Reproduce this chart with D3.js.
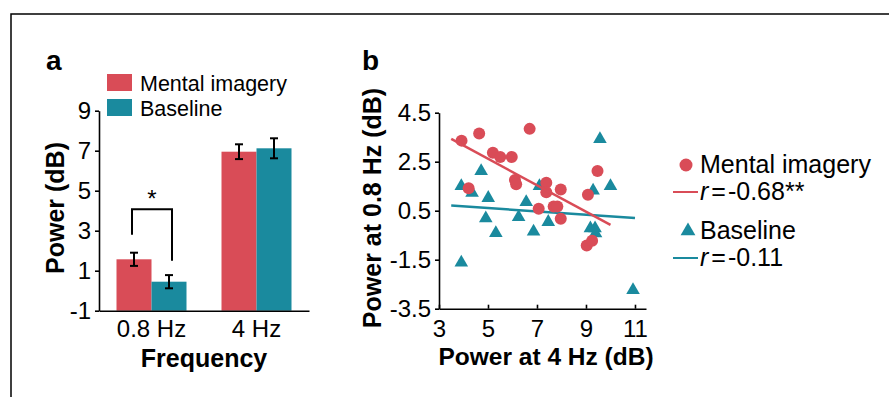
<!DOCTYPE html>
<html>
<head>
<meta charset="utf-8">
<script src="https://cdn.jsdelivr.net/npm/d3@7"></script>
<style>
  body { margin: 0; background: #fff; }
  svg { display: block; font-family: "Liberation Sans", Arial, sans-serif; }
  .axis path, .axis line { stroke: #000; stroke-width: 1.6; }
  .axis text { font-size: 24px; fill: #000; }
</style>
</head>
<body>
<div id="container"></div>
<script>
// panel a: bar chart
const freqs = ["0.8 Hz", "4 Hz"];
const conditions = ["Mental imagery", "Baseline"];
const imageryPower = [1.57, 6.95];
const imageryErr = [0.33, 0.37];
const baselinePower = [0.45, 7.12];
const baselineErr = [0.33, 0.5];
const powerTicks = [-1, 1, 3, 5, 7, 9];
const sigBracket = [2.8, 4.07, 1.5]; // left leg end, top, right leg end

// panel b: scatter
const imageryX = [3.92, 4.64, 4.21, 5.2, 5.5, 5.97, 6.1, 6.15, 6.7, 7.07, 7.38, 7.38, 7.68, 7.83, 7.97, 7.97, 9.08, 9.03, 9.25, 9.47];
const imageryY = [3.36, 3.65, 1.42, 2.87, 2.69, 2.69, 1.75, 1.58, 3.84, 0.58, 1.64, 1.25, 0.67, 0.67, 1.37, 0.17, 1.15, -0.92, -0.73, 2.12];
const baselineX = [3.91, 3.91, 4.35, 4.72, 5.01, 4.91, 5.32, 6.25, 6.56, 6.86, 7.1, 7.46, 9.29, 9.18, 9.37, 9.39, 9.57, 10.0, 10.92];
const baselineY = [1.5, -1.62, 1.23, 2.12, 1.02, 0.19, -0.41, 0.24, 0.85, -0.35, 1.5, 0.04, 1.32, -0.22, -0.22, -0.42, 3.42, 1.5, -2.74];
const fitImageryX = [3.5, 10.0];
const fitImageryY = [3.43, -0.08];
const fitBaselineX = [3.5, 11.0];
const fitBaselineY = [0.71, 0.2];
const corrLabels = ["-0.68**", "-0.11"];
const scatterXTicks = [3, 5, 7, 9, 11];
const scatterYTicks = [-3.5, -1.5, 0.5, 2.5, 4.5];

const red = "#d94c57";
const teal = "#1a8a9e";
const colors = [red, teal];

// plain hyphen instead of d3's unicode minus
const hy = f => d => f(d).replace("\u2212", "-");

const svg = d3.select("#container").append("svg")
  .attr("width", 889).attr("height", 397);

// frame
svg.append("rect")
  .attr("x", 11).attr("y", 14).attr("width", 900).attr("height", 400)
  .attr("fill", "none").attr("stroke", "#000").attr("stroke-width", 1.5);

// ---------- panel a ----------
const yA = d3.scaleLinear().domain([-1, 9]).range([310.7, 110.7]);
const xA = d3.scaleBand().domain(freqs).range([99, 309]).paddingInner(1 / 3).paddingOuter(1 / 6);
const xSub = d3.scaleBand().domain(conditions).range([0, xA.bandwidth()]);

const barData = [];
freqs.forEach((f, i) => {
  barData.push({ f, c: conditions[0], v: imageryPower[i], e: imageryErr[i] });
  barData.push({ f, c: conditions[1], v: baselinePower[i], e: baselineErr[i] });
});

svg.append("g").selectAll("rect").data(barData).join("rect")
  .attr("x", d => xA(d.f) + xSub(d.c))
  .attr("width", xSub.bandwidth())
  .attr("y", d => yA(d.v))
  .attr("height", d => yA(-1) - yA(d.v))
  .attr("fill", d => colors[conditions.indexOf(d.c)]);

const errG = svg.append("g").attr("stroke", "#000").attr("stroke-width", 2);
barData.forEach(d => {
  const cx = xA(d.f) + xSub(d.c) + xSub.bandwidth() / 2;
  errG.append("line").attr("x1", cx).attr("x2", cx).attr("y1", yA(d.v - d.e)).attr("y2", yA(d.v + d.e));
  [d.v - d.e, d.v + d.e].forEach(v => {
    errG.append("line").attr("x1", cx - 4).attr("x2", cx + 4).attr("y1", yA(v)).attr("y2", yA(v));
  });
});

// significance bracket
const bl = xA(freqs[0]) + xSub.bandwidth() / 2 - 2;
const br = xA(freqs[0]) + xSub.bandwidth() * 1.5 + 3;
svg.append("path")
  .attr("d", `M${bl},${yA(sigBracket[0])}V${yA(sigBracket[1])}H${br}V${yA(sigBracket[2])}`)
  .attr("fill", "none").attr("stroke", "#000").attr("stroke-width", 2);
svg.append("text")
  .attr("x", (bl + br) / 2).attr("y", yA(sigBracket[1]) - 2)
  .attr("text-anchor", "middle").attr("font-size", 24).text("*");

svg.append("g").attr("class", "axis").attr("transform", "translate(99,0)")
  .call(d3.axisLeft(yA).tickValues(powerTicks).tickSize(4).tickSizeOuter(0).tickFormat(hy(d3.format("d"))))
  .call(g => g.selectAll("text").attr("dx", "-1"));

svg.append("g").attr("class", "axis").attr("transform", `translate(0,${yA(-1)})`)
  .call(d3.axisBottom(xA).tickSize(0).tickPadding(9))
  .call(g => g.selectAll("text").attr("font-size", 25));

svg.append("text").attr("transform", "translate(64,208) rotate(-90)")
  .attr("text-anchor", "middle").attr("font-size", 25).attr("font-weight", "bold").text("Power (dB)");
svg.append("text").attr("x", 204).attr("y", 367)
  .attr("text-anchor", "middle").attr("font-size", 25).attr("font-weight", "bold").text("Frequency");
svg.append("text").attr("x", 46).attr("y", 70)
  .attr("font-size", 28).attr("font-weight", "bold").text("a");

// legend a
conditions.forEach((c, i) => {
  svg.append("rect").attr("x", 107).attr("y", 74 + i * 25).attr("width", 25).attr("height", 17).attr("fill", colors[i]);
  svg.append("text").attr("x", 140).attr("y", 91 + i * 25).attr("font-size", 21.5).text(c);
});

// ---------- panel b ----------
const xB = d3.scaleLinear().domain([3, 11.45]).range([439, 646]);
const yB = d3.scaleLinear().domain([-3.5, 4.5]).range([308.7, 112.7]);

svg.append("g").attr("class", "axis").attr("transform", `translate(0,${yB(-3.5)})`)
  .call(d3.axisBottom(xB).tickValues(scatterXTicks).tickSize(-4).tickSizeOuter(0).tickFormat(d3.format("d")))
  .call(g => g.selectAll("text").attr("y", 11).attr("font-size", 25));

svg.append("g").attr("class", "axis").attr("transform", `translate(${xB(3)},0)`)
  .call(d3.axisLeft(yB).tickValues(scatterYTicks).tickSize(4).tickSizeOuter(0).tickFormat(hy(d3.format(".1f"))))
  .call(g => g.selectAll("text").attr("dx", "-1"));

const line = d3.line().x(d => xB(d[0])).y(d => yB(d[1]));
svg.append("path").datum(fitBaselineX.map((x, i) => [x, fitBaselineY[i]]))
  .attr("d", line).attr("stroke", teal).attr("stroke-width", 2.5).attr("fill", "none");

svg.append("g").selectAll("path").data(baselineX.map((x, i) => [x, baselineY[i]])).join("path")
  .attr("d", d3.symbol(d3.symbolTriangle, 80))
  .attr("transform", d => `translate(${xB(d[0])},${yB(d[1])})`)
  .attr("fill", teal);

svg.append("g").selectAll("circle").data(imageryX.map((x, i) => [x, imageryY[i]])).join("circle")
  .attr("cx", d => xB(d[0])).attr("cy", d => yB(d[1])).attr("r", 6)
  .attr("fill", red);

svg.append("path").datum(fitImageryX.map((x, i) => [x, fitImageryY[i]]))
  .attr("d", line).attr("stroke", red).attr("stroke-width", 2.5).attr("fill", "none");

svg.append("text").attr("transform", "translate(381,208) rotate(-90)")
  .attr("text-anchor", "middle").attr("font-size", 25).attr("font-weight", "bold").text("Power at 0.8 Hz (dB)");
svg.append("text").attr("x", 546).attr("y", 365)
  .attr("text-anchor", "middle").attr("font-size", 24.5).attr("font-weight", "bold").text("Power at 4 Hz (dB)");
svg.append("text").attr("x", 362).attr("y", 70)
  .attr("font-size", 28).attr("font-weight", "bold").text("b");

// legend b
conditions.forEach((c, i) => {
  const y0 = 165 + i * 66;
  if (i === 0) {
    svg.append("circle").attr("cx", 686).attr("cy", y0).attr("r", 6.5).attr("fill", colors[i]);
  } else {
    svg.append("path").attr("d", d3.symbol(d3.symbolTriangle, 95))
      .attr("transform", `translate(688,${y0})`).attr("fill", colors[i]);
  }
  svg.append("text").attr("x", 700).attr("y", y0 + 8).attr("font-size", 25).text(c);
  svg.append("line").attr("x1", 673).attr("x2", 698).attr("y1", y0 + 27).attr("y2", y0 + 27)
    .attr("stroke", colors[i]).attr("stroke-width", 2);
  const t = svg.append("text").attr("x", 700).attr("y", y0 + 35).attr("font-size", 25);
  t.append("tspan").attr("font-style", "italic").text("r");
  t.append("tspan").attr("dx", 3).text("=");
  t.append("tspan").attr("dx", 2).text(corrLabels[i]);
});
</script>
</body>
</html>
